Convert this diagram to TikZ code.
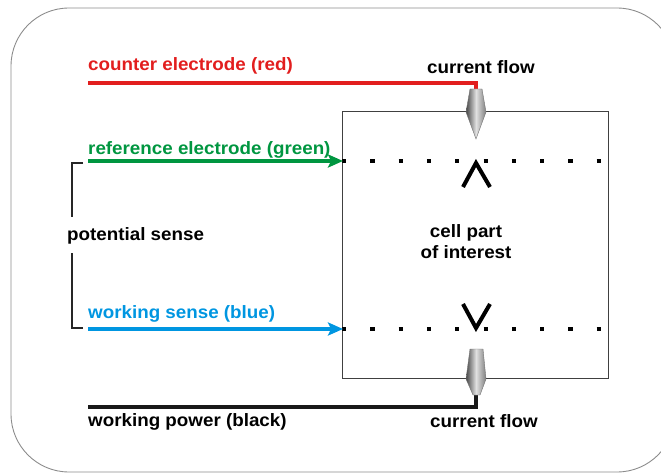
\documentclass[tikz,border=0pt]{standalone}
\usepackage{fontspec}
\setmainfont{Liberation Sans}[FakeStretch=1.05]
\usetikzlibrary{arrows.meta}
\definecolor{cred}{RGB}{226,30,30}
\definecolor{cgreen}{RGB}{0,150,64}
\definecolor{cblue}{RGB}{0,150,225}
\definecolor{cframe}{RGB}{140,140,140}
\tikzset{
  lbl/.style={inner sep=0pt, font=\fontsize{17.9}{21}\selectfont\bfseries},
  wire/.style={line width=4pt},
  sensearrow/.style={line width=4pt, -{Stealth[length=15pt,width=13pt,inset=3pt]}},
  pointer/.style={left color=black!72, right color=black!50, middle color=black!12, draw=black!55, line width=0.4pt},
  dotline/.style={line width=4.2pt, dash pattern=on 4.2pt off 24.1pt},
  caret/.style={line width=4pt, miter limit=10},
}
\begin{document}
\begin{tikzpicture}[x=1pt,y=-1pt]
\useasboundingbox (0,0) rectangle (661,473);
\clip (0,0) rectangle (661,473);
% frame
\draw[cframe, line width=0.9pt, rounded corners=58pt] (11,8) rectangle (675,472);
% cell box
\draw[black!75, line width=1pt] (342,112) rectangle (608,378);
% dotted lines
\draw[dotline] (342,161) -- (608,161);
\draw[dotline] (342,329) -- (608,329);
% carets
\draw[caret] (463,187) -- (476,163) -- (490,187);
\draw[caret] (463,304) -- (476,328) -- (490,304);
% texts
\node[lbl, text=cred, anchor=west] (tred) at (88,66) {counter electrode (red)};
\node[lbl, anchor=center] (cf1) at (481,67) {current flow};
\node[lbl, text=cgreen, anchor=west] (tgreen) at (88,150) {reference electrode (green)};
\node[lbl, anchor=west] (pot) at (67,236) {potential sense};
\node[lbl, align=center] (cell) at (466,242) {cell part\\[0pt]of interest};
\node[lbl, text=cblue, anchor=west] (tblue) at (88,314) {working sense (blue)};
\node[lbl, anchor=west] (tblack) at (88,422) {working power (black)};
\node[lbl, anchor=center] (cf2) at (484,421) {current flow};
% coordinates
\coordinate (r0) at (88,83);
\coordinate (r1) at (476,83);
\coordinate (ptop) at (476,91);
\coordinate (g0) at (88,161);
\coordinate (g1) at (343,161);
\coordinate (b0) at (88,329);
\coordinate (b1) at (343,329);
\coordinate (k0) at (88,407);
\coordinate (k1) at (476,407);
\coordinate (pbot) at (476,393);
% wires
\draw[wire, cred, line join=miter] (r0) -- (r1) -- (ptop);
\draw[wire, black!90, line join=miter] (k0) -- (k1) -- (pbot);
\draw[sensearrow, cgreen] (g0) -- (g1);
\draw[sensearrow, cblue] (b0) -- (b1);
% pointers
\path[pointer] (470,89) -- (482,89) -- (486,112) -- (476,139) -- (466,112) -- cycle;
\path[pointer] (470,349) -- (483,349) -- (486,379) -- (480,395) -- (473,395) -- (466,379) -- cycle;
% bracket
\draw[black!85, line width=1.3pt] (83,163) -- (72,163) -- (72,217);
\draw[black!85, line width=1.3pt] (72,253) -- (72,328) -- (83,328);
\end{tikzpicture}
\end{document}
